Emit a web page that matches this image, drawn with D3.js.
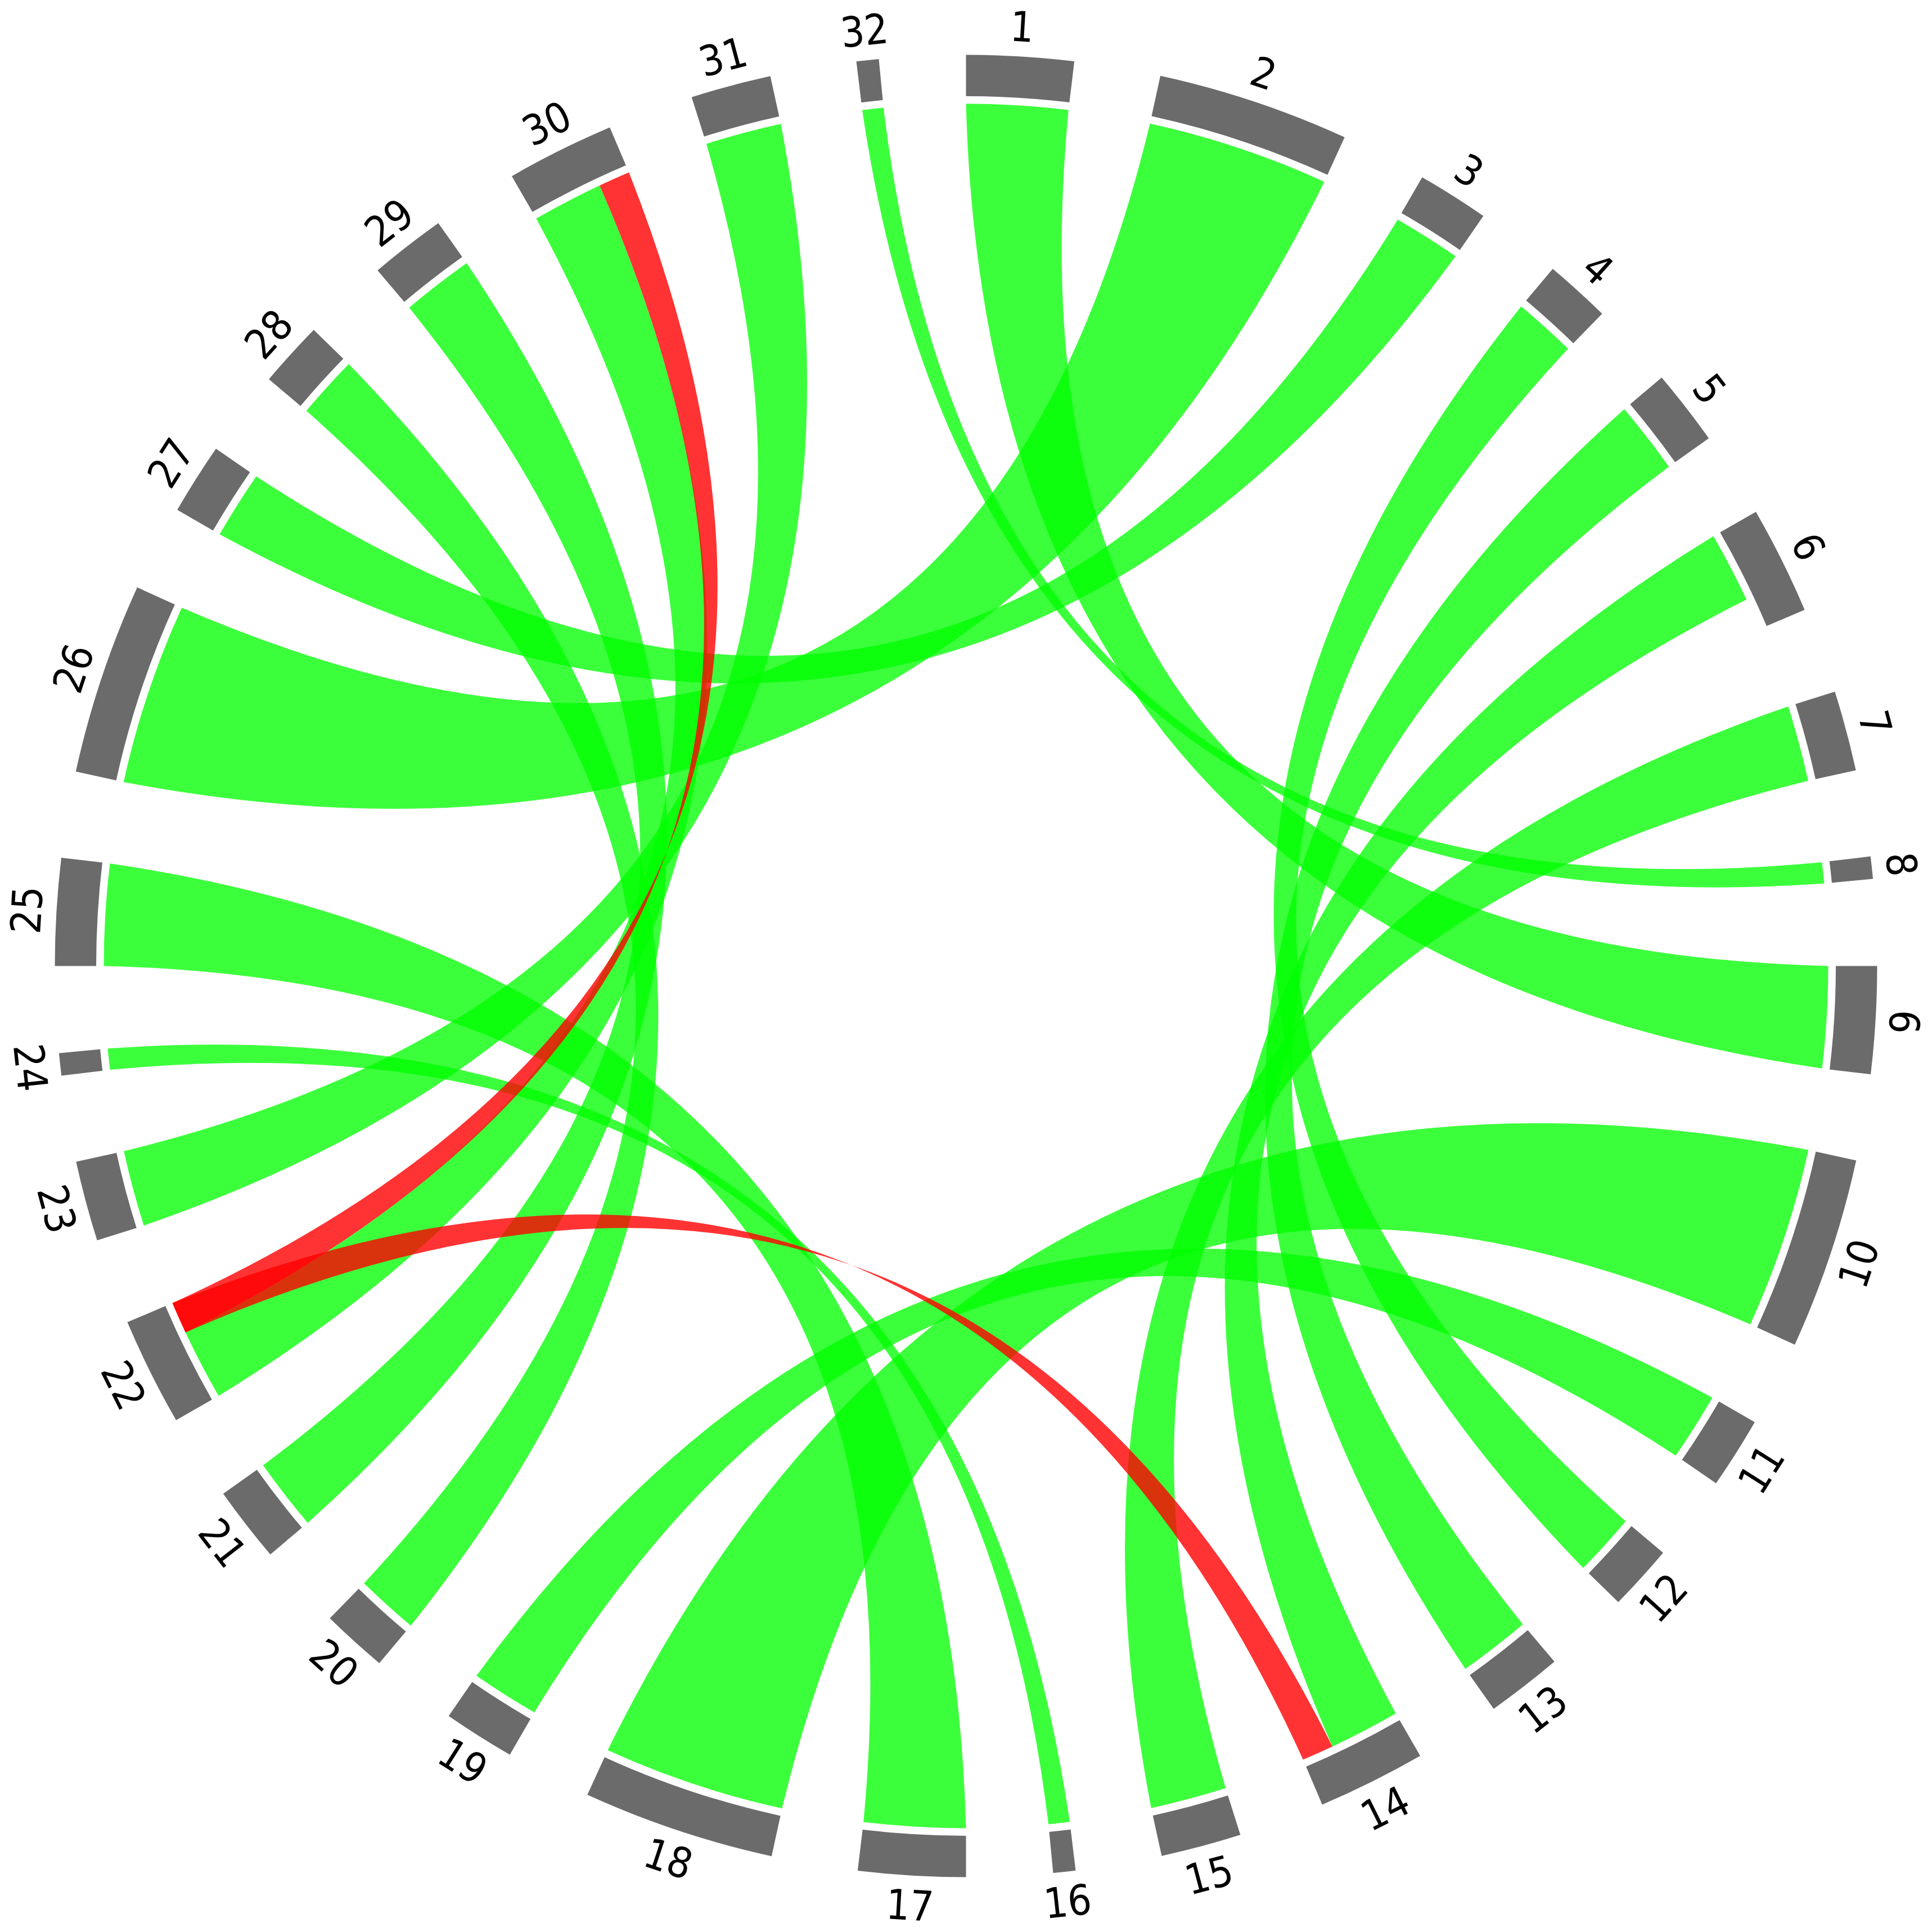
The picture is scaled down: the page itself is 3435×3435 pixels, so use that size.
<!DOCTYPE html>
<html>
<head>
<meta charset="utf-8">
<script src="https://cdn.jsdelivr.net/npm/d3@7"></script>
<style>
  html, body { margin: 0; padding: 0; background: #ffffff; }
  svg { display: block; }
</style>
</head>
<body>
<svg id="chart" width="3435" height="3435"></svg>
<script>
// ---------------- DATA ----------------
const groupLabels = ["1","2","3","4","5","6","7","8","9","10","11","12","13","14","15","16",
                     "17","18","19","20","21","22","23","24","25","26","27","28","29","30","31","32"];

// sub-arc values of each group, in clockwise order
const segmentValues = [
  [48], [86], [32], [29.5], [34], [33.4, 15], [36], [10],
  [48], [86], [32], [29.5], [34], [33.4, 15], [36], [10],
  [48], [86], [32], [29.5], [34], [33.4, 15], [36], [10],
  [48], [86], [32], [29.5], [34], [33.4, 15], [36], [10]
];

// green links: [groupA, segmentA, groupB, segmentB]
const greenLinks = [
  [1,0, 9,0], [2,0, 26,0], [3,0, 27,0], [4,0, 12,0],
  [5,0, 13,0], [6,0, 14,0], [7,0, 15,0], [8,0, 32,0],
  [10,0, 18,0], [11,0, 19,0], [16,0, 24,0], [17,0, 25,0],
  [20,0, 28,0], [21,0, 29,0], [22,0, 30,0], [23,0, 31,0]
];

// red (twisted) links
const redLinks = [
  [30,1, 22,1], [22,1, 14,1]
];

// ---------------- LAYOUT ----------------
const cx = 1717.5, cy = 1717.5;
const R_RIBBON = 1533;
const R_IN = 1546.5, R_OUT = 1620;
const R_LABEL = 1673;
const RHO = 55;                       // bezier control radius
const padDeg = 5.49;
const rad = d => d * Math.PI / 180;

const groupTotals = segmentValues.map(s => d3.sum(s));
const total = d3.sum(groupTotals);
const n = groupTotals.length;
const valueScale = d3.scaleLinear()
  .domain([0, total])
  .range([0, 2 * Math.PI - n * rad(padDeg)]);

const groups = [];
let cum = 0;
groupTotals.forEach((t, i) => {
  const offset = i * rad(padDeg);
  const start = valueScale(cum) + offset;
  const segs = [];
  let c = cum;
  segmentValues[i].forEach(v => {
    segs.push({ start: valueScale(c) + offset, end: valueScale(c + v) + offset });
    c += v;
  });
  cum += t;
  const end = valueScale(cum) + offset;
  groups.push({ index: i, label: groupLabels[i], start, end, segs });
});

const svg = d3.select("#chart");
const g = svg.append("g").attr("transform", `translate(${cx},${cy})`);

const pt = (r, a) => [r * Math.sin(a), -r * Math.cos(a)];
function ctrl(a, b) {
  const u = [Math.sin(a) + Math.sin(b), -Math.cos(a) - Math.cos(b)];
  const l = Math.hypot(u[0], u[1]);
  if (l < 1e-9) return [0, 0];
  return [RHO * u[0] / l, RHO * u[1] / l];
}

function ribbonPath(s0, s1, t0, t1, twisted) {
  const p = d3.path();
  const R = R_RIBBON;
  const A0 = pt(R, s0);
  p.moveTo(A0[0], A0[1]);
  p.arc(0, 0, R, s0 - Math.PI / 2, s1 - Math.PI / 2);
  if (!twisted) {
    let c = ctrl(s1, t0), T = pt(R, t0);
    p.quadraticCurveTo(c[0], c[1], T[0], T[1]);
    p.arc(0, 0, R, t0 - Math.PI / 2, t1 - Math.PI / 2);
    c = ctrl(t1, s0);
    p.quadraticCurveTo(c[0], c[1], A0[0], A0[1]);
  } else {
    let c = ctrl(s1, t1), T = pt(R, t1);
    p.quadraticCurveTo(c[0], c[1], T[0], T[1]);
    p.arc(0, 0, R, t1 - Math.PI / 2, t0 - Math.PI / 2, true);
    c = ctrl(t0, s0);
    p.quadraticCurveTo(c[0], c[1], A0[0], A0[1]);
  }
  p.closePath();
  return p.toString();
}

// green ribbons
g.append("g").selectAll("path")
  .data(greenLinks)
  .join("path")
  .attr("d", d => {
    const a = groups[d[0] - 1].segs[d[1]], b = groups[d[2] - 1].segs[d[3]];
    return ribbonPath(a.start, a.end, b.start, b.end, false);
  })
  .attr("fill", "rgb(0,255,0)")
  .attr("fill-opacity", 0.765)
  .attr("stroke", "none");

// red ribbons (twisted)
g.append("g").selectAll("path")
  .data(redLinks)
  .join("path")
  .attr("d", d => {
    const a = groups[d[0] - 1].segs[d[1]], b = groups[d[2] - 1].segs[d[3]];
    return ribbonPath(a.start, a.end, b.start, b.end, true);
  })
  .attr("fill", "rgb(255,0,0)")
  .attr("fill-opacity", 0.8)
  .attr("stroke", "none");

// group arcs
const arc = d3.arc().innerRadius(R_IN).outerRadius(R_OUT);
g.append("g").selectAll("path")
  .data(groups)
  .join("path")
  .attr("d", d => arc({ startAngle: d.start, endAngle: d.end }))
  .attr("fill", "#6b6b6b");

// labels
g.append("g").selectAll("text")
  .data(groups)
  .join("text")
  .attr("transform", d => {
    const m = (d.start + d.end) / 2;
    const deg = m * 180 / Math.PI;
    const p = pt(R_LABEL, m);
    const rot = (deg > 90 && deg < 270) ? deg - 180 : deg;
    return `translate(${p[0]},${p[1]}) rotate(${rot})`;
  })
  .attr("text-anchor", "middle")
  .attr("dominant-baseline", "central")
  .attr("font-family", "'DejaVu Sans Condensed', 'DejaVu Sans', sans-serif")
  .attr("font-stretch", "condensed")
  .attr("font-size", 74)
  .attr("fill", "#000")
  .text(d => d.label);
</script>
</body>
</html>
